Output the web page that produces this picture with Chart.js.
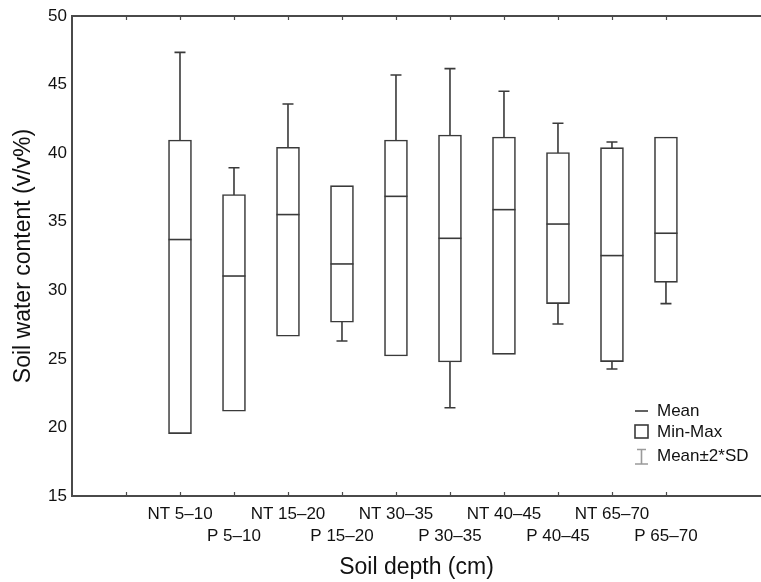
<!DOCTYPE html>
<html>
<head>
<meta charset="utf-8">
<script src="https://cdn.jsdelivr.net/npm/chart.js@4.4.1/dist/chart.umd.min.js"></script>
<style>
  html, body { margin: 0; padding: 0; background: #fff; }
  canvas { display: block; }
</style>
</head>
<body>
<canvas id="myChart" width="761" height="582"></canvas>
<script>
// categories sit at x = 2..11 on the axis, empty slots at 1 and 12
const categories = ["NT 5–10", "P 5–10", "NT 15–20", "P 15–20", "NT 30–35",
  "P 30–35", "NT 40–45", "P 40–45", "NT 65–70", "P 65–70"];
const positions = [2, 3, 4, 5, 6, 7, 8, 9, 10, 11];

const mins = [19.55, 21.18, 26.65, 27.67, 25.21, 24.77, 25.33, 29.03, 24.8, 30.58];
const maxs = [40.96, 36.98, 40.43, 37.63, 40.96, 41.32, 41.18, 40.04, 40.4, 41.18];
const means = [33.7, 31.04, 35.52, 31.92, 36.85, 33.79, 35.88, 34.83, 32.53, 34.16];
// mean - 2*SD and mean + 2*SD
const sdLow = [20.05, 23.14, 27.46, 26.3, 28.0, 21.44, 27.25, 27.54, 24.26, 29.03];
const sdHigh = [47.35, 38.94, 43.58, 37.54, 45.7, 46.16, 44.51, 42.18, 40.81, 39.29];

const yTicks = [15, 20, 25, 30, 35, 40, 45, 50];

const FONT = "'Liberation Sans', Arial, sans-serif";
const INK = "#111111";
const LINE = "#3a3a3a";

const whiskers = {
  id: "whiskers",
  beforeDatasetsDraw(chart) {
    const ctx = chart.ctx;
    const x = chart.scales.x, y = chart.scales.y;
    ctx.save();
    ctx.strokeStyle = LINE;
    ctx.lineWidth = 1.6;
    positions.forEach((p, i) => {
      const px = x.getPixelForValue(p);
      const pm = y.getPixelForValue(means[i]);
      [sdLow[i], sdHigh[i]].forEach((v) => {
        const pv = y.getPixelForValue(v);
        ctx.beginPath();
        ctx.moveTo(px, pm);
        ctx.lineTo(px, pv);
        ctx.moveTo(px - 5.5, pv);
        ctx.lineTo(px + 5.5, pv);
        ctx.stroke();
      });
    });
    ctx.restore();
  },
  afterDraw(chart) {
    const ctx = chart.ctx;
    const a = chart.chartArea;
    const x = chart.scales.x;
    ctx.save();
    // top frame line
    ctx.strokeStyle = "#4a4a4a";
    ctx.lineWidth = 2;
    ctx.beginPath();
    ctx.moveTo(a.left - 1, a.top);
    ctx.lineTo(a.right, a.top);
    ctx.stroke();
    // inward tick marks, top and bottom
    ctx.lineWidth = 1.2;
    x.ticks.forEach((t) => {
      if (!Number.isInteger(t.value) || t.value <= 0) return;
      const px = Math.round(x.getPixelForValue(t.value)) + 0.5;
      ctx.beginPath();
      ctx.moveTo(px, a.top);
      ctx.lineTo(px, a.top + 4);
      ctx.moveTo(px, a.bottom);
      ctx.lineTo(px, a.bottom - 4);
      ctx.stroke();
    });

    // legend
    const lx = 635, lw = 13;
    ctx.fillStyle = INK;
    ctx.font = "17px " + FONT;
    ctx.textBaseline = "middle";
    ctx.textAlign = "left";
    ctx.strokeStyle = LINE;
    ctx.lineWidth = 1.6;
    ctx.beginPath();
    ctx.moveTo(lx, 411);
    ctx.lineTo(lx + lw, 411);
    ctx.stroke();
    ctx.fillText("Mean", 657, 411);
    ctx.strokeRect(lx, 425, lw, 13);
    ctx.fillText("Min-Max", 657, 432);
    ctx.strokeStyle = "#9a9a9a";
    ctx.beginPath();
    ctx.moveTo(lx + 2, 449.5);
    ctx.lineTo(lx + lw - 2, 449.5);
    ctx.moveTo(lx + lw / 2, 449.5);
    ctx.lineTo(lx + lw / 2, 464);
    ctx.moveTo(lx, 464);
    ctx.lineTo(lx + lw, 464);
    ctx.stroke();
    ctx.fillText("Mean±2*SD", 657, 456);
    ctx.restore();
  }
};

const config = {
  data: {
    datasets: [
      {
        type: "scatter",
        label: "Mean",
        data: positions.map((p, i) => ({ x: p, y: means[i] })),
        pointStyle: "line",
        pointRadius: 11.5,
        pointHoverRadius: 11.5,
        borderColor: LINE,
        borderWidth: 1.6,
        order: 1
      },
      {
        type: "bar",
        label: "Min-Max",
        data: positions.map((p, i) => ({ x: p, y: [mins[i], maxs[i]] })),
        backgroundColor: "#ffffff",
        borderColor: LINE,
        borderWidth: 1.6,
        borderSkipped: false,
        barThickness: 23,
        order: 2
      }
    ]
  },
  options: {
    responsive: false,
    animation: false,
    layout: { autoPadding: false, padding: { top: 16, right: 0, left: 0, bottom: 0 } },
    plugins: { legend: { display: false }, tooltip: { enabled: false } },
    scales: {
      x: {
        type: "linear",
        offset: false,
        min: 0,
        max: 12.76,
        grid: { display: false, drawTicks: false, offset: false },
        border: { display: true, color: "#4a4a4a", width: 2 },
        afterFit: (s) => { s.height = 86; s.paddingRight = 0; s.paddingLeft = 0; },
        ticks: {
          stepSize: 1,
          autoSkip: false,
          maxRotation: 0,
          padding: 7,
          color: INK,
          font: { family: FONT, size: 17, lineHeight: 1.3 },
          callback: (v) => {
            const i = positions.indexOf(v);
            if (i < 0) return "";
            return i % 2 === 0 ? [categories[i], ""] : ["", categories[i]];
          }
        },
        title: {
          display: true,
          text: "Soil depth (cm)",
          color: INK,
          font: { family: FONT, size: 23 },
          padding: { top: 0, bottom: 1 }
        }
      },
      y: {
        min: 15,
        max: 50,
        grid: { display: false, drawTicks: false },
        border: { display: true, color: "#4a4a4a", width: 2 },
        afterFit: (s) => { s.width = 72; },
        afterBuildTicks: (s) => { s.ticks = yTicks.map((v) => ({ value: v })); },
        ticks: {
          padding: 5,
          color: INK,
          font: { family: FONT, size: 17 }
        },
        title: {
          display: true,
          text: "Soil water content (v/v%)",
          color: INK,
          font: { family: FONT, size: 23 },
          padding: { top: 10, bottom: 0 }
        }
      }
    }
  },
  plugins: [whiskers]
};

const myChart = new Chart(document.getElementById("myChart"), config);
</script>
</body>
</html>
